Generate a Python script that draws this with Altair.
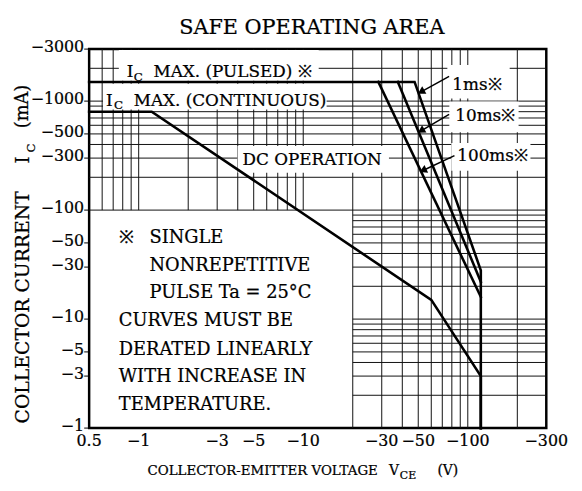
import math
import pandas as pd
import altair as alt

# ---------------- data ----------------
# safe operating area curves (V_CE magnitude in V, I_C magnitude in mA)
pulsed_1ms_v = [0.5, 47.5, 120, 120]
pulsed_1ms_i = [1500, 1500, 28, 1]
pulsed_10ms_v = [37.6, 120]
pulsed_10ms_i = [1500, 22]
pulsed_100ms_v = [28.6, 120]
pulsed_100ms_i = [1500, 16]
dc_v = [0.5, 1.2, 60, 120, 120]
dc_i = [800, 800, 15, 3, 1]

# axis tick labels
x_ticks = [0.5, 1, 3, 5, 10, 30, 50, 100, 300]
x_tick_labels = ["0.5", "\u22121", "\u22123", "\u22125", "\u221210", "\u221230", "\u221250",
                 "\u2212100", "\u2212300"]
y_ticks = [1, 3, 5, 10, 30, 50, 100, 300, 500, 1000, 3000]
y_tick_labels = ["\u22121", "\u22123", "\u22125", "\u221210", "\u221230", "\u221250",
                 "\u2212100", "\u2212300", "\u2212500", "\u22121000", "\u22123000"]

# log-paper grid lines
grid_x_full = [20, 30, 40, 50, 60, 70, 80, 90, 100, 200]
grid_x_upper = [0.6, 0.7, 0.8, 0.9, 1, 2, 3, 4, 5, 6, 7, 8, 9, 10]
grid_y_full = [100, 200, 300, 400, 500, 600, 700, 800, 900, 1000, 2000]
grid_y_lower = [2, 3, 4, 5, 6, 7, 8, 9, 10, 20, 30, 40, 50, 60, 70, 80, 90]

# arrows from the pulse-width labels to their curves: (start V, start I, head V, head I)
arrows = {
    "1ms": (77, 1690, 52, 1215),
    "10ms": (77, 757, 52, 534),
    "100ms": (83, 316, 53.4, 231),
}

# ---------------- layout ----------------
XMIN, XMAX, YMIN, YMAX = 0.5, 300, 1, 3000
W, H = 462, 383
OX, OY = 90, 47  # page position of plot origin
FONT = "DejaVu Serif"
TSTROKE = 0.25


def px(v):
    return W * math.log10(v / XMIN) / math.log10(XMAX / XMIN)


def py(v):
    return H - H * math.log10(v / YMIN) / math.log10(YMAX / YMIN)


xs = alt.Scale(type="log", domain=[XMIN, XMAX], nice=False)
ys = alt.Scale(type="log", domain=[YMIN, YMAX], nice=False)
one = pd.DataFrame({"k": [0]})

# grid
rows = []
for v in grid_x_full:
    rows.append(dict(x=v, x2=v, y=YMIN, y2=YMAX))
for v in grid_x_upper:
    rows.append(dict(x=v, x2=v, y=100, y2=YMAX))
for v in grid_y_full:
    rows.append(dict(x=XMIN, x2=XMAX, y=v, y2=v))
for v in grid_y_lower:
    rows.append(dict(x=20, x2=XMAX, y=v, y2=v))
grid_df = pd.DataFrame(rows)

grid = alt.Chart(grid_df).mark_rule(color="#111", strokeWidth=1).encode(
    x=alt.X("x:Q", scale=xs, axis=None),
    x2="x2:Q",
    y=alt.Y("y:Q", scale=ys, axis=None),
    y2="y2:Q",
)

layers = [grid]

# tick marks and tick labels
ydf = pd.DataFrame({"v": y_ticks, "t": y_tick_labels})
xdf = pd.DataFrame({"v": x_ticks, "t": x_tick_labels})
layers.append(alt.Chart(ydf).mark_rule(color="black", strokeWidth=1).encode(
    y=alt.Y("v:Q", scale=ys), x=alt.value(-5), x2=alt.value(0)))
layers.append(alt.Chart(ydf).mark_text(
    font=FONT, fontSize=16, align="right", baseline="middle", color="black",
    stroke="black", strokeWidth=TSTROKE, dx=-5, dy=-2).encode(
    y=alt.Y("v:Q", scale=ys), x=alt.value(0), text="t:N"))
layers.append(alt.Chart(xdf).mark_text(
    font=FONT, fontSize=16, align="center", baseline="alphabetic", color="black",
    stroke="black", strokeWidth=TSTROKE).encode(
    x=alt.X("v:Q", scale=xs), y=alt.value(448 - OY), text="t:N"))


def box(x0, x1, y0, y1):
    return alt.Chart(one).mark_rect(color="white").encode(
        x=alt.value(x0 - OX), x2=alt.value(x1 - OX),
        y=alt.value(y0 - OY), y2=alt.value(y1 - OY))


for b in [(120, 322, 48, 79), (104, 330, 82, 108), (240, 393, 145, 172),
          (452, 515, 63, 97), (454, 524, 100, 131), (456, 536, 142, 170)]:
    layers.append(box(*b))

# curves
crow = []
for name, vv, ii in [("1ms", pulsed_1ms_v, pulsed_1ms_i),
                     ("10ms", pulsed_10ms_v, pulsed_10ms_i),
                     ("100ms", pulsed_100ms_v, pulsed_100ms_i),
                     ("DC", dc_v, dc_i)]:
    for k, (v, i) in enumerate(zip(vv, ii)):
        crow.append(dict(s=name, o=k, v=v, i=i))
curves = alt.Chart(pd.DataFrame(crow)).mark_line(
    color="black", strokeWidth=2.6, strokeJoin="miter", strokeCap="square").encode(
    x=alt.X("v:Q", scale=xs), y=alt.Y("i:Q", scale=ys), detail="s:N", order="o:Q")
layers.append(curves)

# arrows
arows = []
heads = []
for name, (v0, i0, v1, i1) in arrows.items():
    arows.append(dict(s=name, o=0, v=v0, i=i0))
    arows.append(dict(s=name, o=1, v=v1, i=i1))
    ang = math.degrees(math.atan2(py(i1) - py(i0), px(v1) - px(v0))) % 360
    heads.append(dict(s=name, v=v1, i=i1, a=ang))
layers.append(alt.Chart(pd.DataFrame(arows)).mark_line(color="black", strokeWidth=1.5).encode(
    x=alt.X("v:Q", scale=xs), y=alt.Y("i:Q", scale=ys), detail="s:N", order="o:Q"))
layers.append(alt.Chart(pd.DataFrame(heads)).mark_point(
    shape="triangle-right", filled=True, color="black", size=75, opacity=1).encode(
    x=alt.X("v:Q", scale=xs), y=alt.Y("i:Q", scale=ys),
    angle=alt.Angle("a:Q", scale=None)))


def txt(s, x, y, size=17, align="left", angle=0, baseline="alphabetic"):
    kw = dict(text=s, font=FONT, fontSize=size, align=align, baseline=baseline,
              color="black", stroke="black", strokeWidth=TSTROKE)
    if angle:
        kw["angle"] = angle
    return alt.Chart(one).mark_text(**kw).encode(
        x=alt.value(x - OX), y=alt.value(y - OY))


texts = [
    txt("SAFE OPERATING AREA", 315, 32, 21, "center"),
    # pulsed / continuous limits
    txt("I", 128, 75), txt("C", 135, 79, 12), txt("MAX. (PULSED) \u203b", 155, 75),
    txt("I", 107, 104), txt("C", 115, 108, 12), txt("MAX. (CONTINUOUS)", 135, 104),
    txt("DC OPERATION", 245, 164),
    txt("1ms\u203b", 457, 88), txt("10ms\u203b", 460, 120), txt("100ms\u203b", 462, 160),
    # notes
    txt("\u203b", 120, 243, 18), txt("SINGLE", 151, 243, 18),
    txt("NONREPETITIVE", 151, 271, 18),
    txt("PULSE  Ta = 25\u00b0C", 151, 299, 18),
    txt("CURVES MUST BE", 120, 327, 18),
    txt("DERATED LINEARLY", 120, 356, 18),
    txt("WITH INCREASE IN", 120, 383, 18),
    txt("TEMPERATURE.", 120, 412, 18),
    # axis titles
    txt("COLLECTOR-EMITTER VOLTAGE", 149, 477, 13.5),
    txt("V", 393, 477, 14), txt("CE", 404, 481, 11), txt("(V)", 442, 477, 14),
    txt("COLLECTOR CURRENT", 29, 308, 19, "center", 270),
    txt("I", 29, 159, 18, "center", 270), txt("C", 35, 147, 12, "center", 270),
    txt("(mA)", 28, 105, 18, "center", 270),
]
layers += texts

chart = alt.layer(*layers).properties(
    width=W, height=H,
    padding={"left": OX - 8, "top": OY - 8, "right": 28, "bottom": 58},
    autosize=alt.AutoSizeParams(type="none"),
).configure_view(stroke="black", strokeWidth=2.5)

chart.save("out.html", embed_options={"renderer": "svg", "actions": False})
